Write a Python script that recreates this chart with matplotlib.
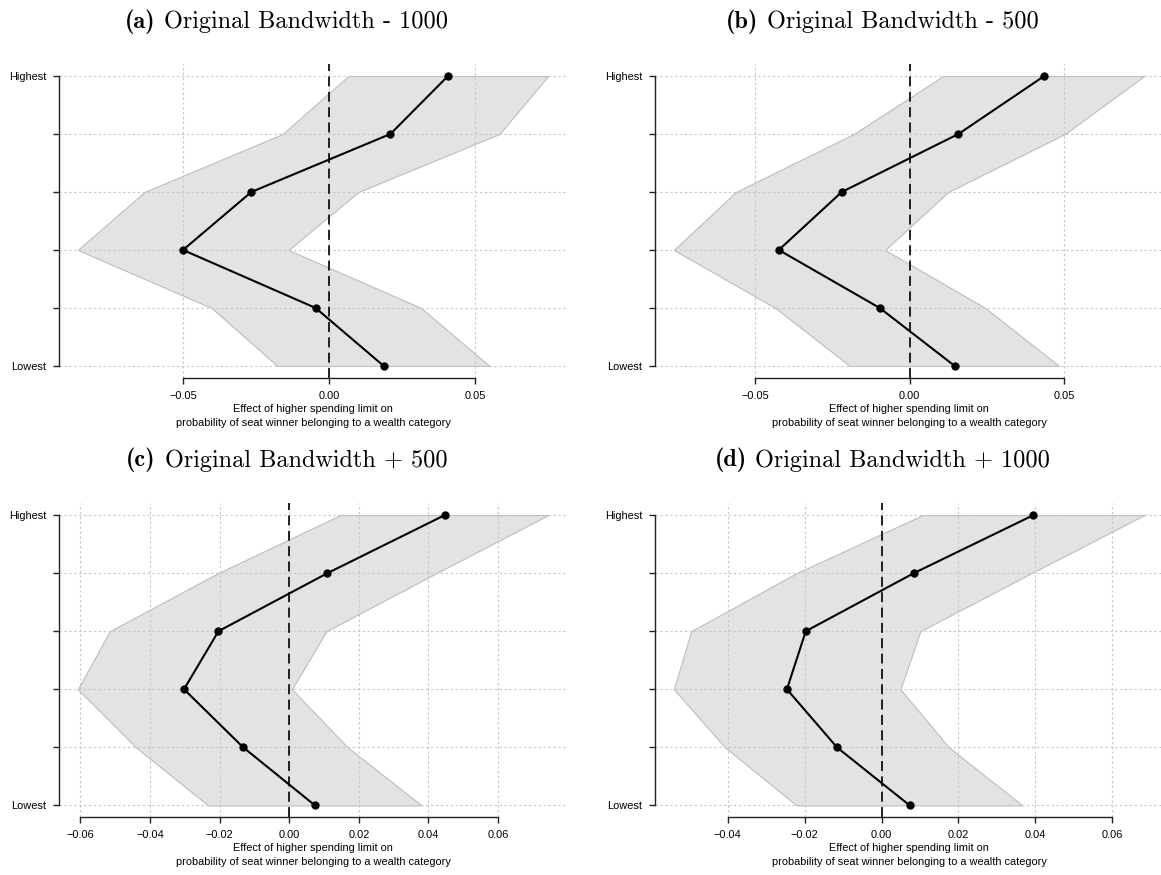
import matplotlib
matplotlib.use("Agg")
import matplotlib.pyplot as plt

plt.rcParams["font.family"] = ["Liberation Sans", "DejaVu Sans"]

# ---- data: wealth category from Lowest (1) to Highest (6) ----
levels = [1, 2, 3, 4, 5, 6]
level_labels = ["Lowest", "", "", "", "", "Highest"]

tags = ["(a)", "(b)", "(c)", "(d)"]
captions = [
    "Original Bandwidth - 1000",
    "Original Bandwidth - 500",
    "Original Bandwidth + 500",
    "Original Bandwidth + 1000",
]

est_a = [0.0187, -0.0046, -0.0500, -0.0266, 0.0210, 0.0407]
lo_a = [-0.0177, -0.0402, -0.0860, -0.0632, -0.0159, 0.0066]
hi_a = [0.0549, 0.0315, -0.0139, 0.0101, 0.0583, 0.0750]

est_b = [0.0146, -0.0097, -0.0424, -0.0220, 0.0158, 0.0436]
lo_b = [-0.0194, -0.0435, -0.0764, -0.0563, -0.0181, 0.0109]
hi_b = [0.0484, 0.0245, -0.0080, 0.0125, 0.0503, 0.0760]

est_c = [0.0074, -0.0132, -0.0302, -0.0203, 0.0110, 0.0447]
lo_c = [-0.0233, -0.0440, -0.0607, -0.0515, -0.0204, 0.0147]
hi_c = [0.0380, 0.0168, 0.0008, 0.0107, 0.0423, 0.0744]

est_d = [0.0073, -0.0116, -0.0246, -0.0197, 0.0084, 0.0395]
lo_d = [-0.0221, -0.0407, -0.0540, -0.0495, -0.0221, 0.0107]
hi_d = [0.0366, 0.0175, 0.0049, 0.0101, 0.0390, 0.0683]

ticks_a = [-0.05, 0.00, 0.05]
ticks_b = [-0.05, 0.00, 0.05]
ticks_c = [-0.06, -0.04, -0.02, 0.00, 0.02, 0.04, 0.06]
ticks_d = [-0.04, -0.02, 0.00, 0.02, 0.04, 0.06]

xlabel = ("Effect of higher spending limit on\n"
          "probability of seat winner belonging to a wealth category")

panels = [
    (est_a, lo_a, hi_a, ticks_a),
    (est_b, lo_b, hi_b, ticks_b),
    (est_c, lo_c, hi_c, ticks_c),
    (est_d, lo_d, hi_d, ticks_d),
]

# axes boxes [left, bottom, width, height] and title centres, figure fractions
boxes = [
    [0.0508, 0.5685, 0.4376, 0.3579],
    [0.5642, 0.5685, 0.4376, 0.3579],
    [0.0508, 0.0663, 0.4376, 0.3583],
    [0.5642, 0.0663, 0.4376, 0.3583],
]
title_xy = [(0.247, 0.975), (0.760, 0.975), (0.247, 0.474), (0.760, 0.474)]

TXT = 7.9
TITLE = 17.5

fig = plt.figure(figsize=(11.61, 8.75), dpi=100)
renderer = fig.canvas.get_renderer()
W = fig.bbox.width

for (est, lo, hi, ticks), box in zip(panels, boxes):
    ax = fig.add_axes(box)

    ax.fill_betweenx(levels, lo, hi, facecolor="#e3e3e3", edgecolor="#bdbdbd",
                     linewidth=0.8, zorder=1)
    ax.axvline(0, color="#111111", lw=1.3, dashes=(5.5, 3), zorder=2.5)
    ax.plot(est, levels, color="black", lw=1.5, marker="o", ms=5, zorder=3)

    ax.margins(x=0.04, y=0.04)

    ax.set_xticks(ticks, [f"{t:.2f}".replace("-", "\u2212") for t in ticks])
    ax.set_yticks(levels, level_labels)
    ax.grid(True, color="#c8c8c8", lw=0.8, dashes=(2.2, 2.2))

    for side in ("top", "right"):
        ax.spines[side].set_visible(False)
    ax.spines["left"].set_bounds(levels[0], levels[-1])
    ax.spines["bottom"].set_bounds(ticks[0], ticks[-1])
    for side in ("left", "bottom"):
        ax.spines[side].set_linewidth(1.0)
        ax.spines[side].set_color("#222222")

    ax.tick_params(axis="both", length=4.5, width=1.0, color="#222222",
                   labelsize=TXT)
    ax.tick_params(axis="x", pad=5.0)
    ax.tick_params(axis="y", pad=4.5)

    ax.set_xlabel(xlabel, fontsize=TXT, labelpad=2.0, linespacing=1.55)

# panel captions: bold tag followed by roman text, centred as one line
for tag, cap, (tx, ty) in zip(tags, captions, title_xy):
    t1 = fig.text(0, ty, tag, family="cmb10", fontsize=TITLE, va="center")
    t2 = fig.text(0, ty, cap, family="cmr10", fontsize=TITLE, va="center")
    w1 = t1.get_window_extent(renderer).width
    w2 = t2.get_window_extent(renderer).width
    gap = 0.36 * TITLE * 100 / 72
    x0 = tx * W - (w1 + gap + w2) / 2
    t1.set_x(x0 / W)
    t2.set_x((x0 + w1 + gap) / W)

fig.savefig("out.png", dpi=100)
